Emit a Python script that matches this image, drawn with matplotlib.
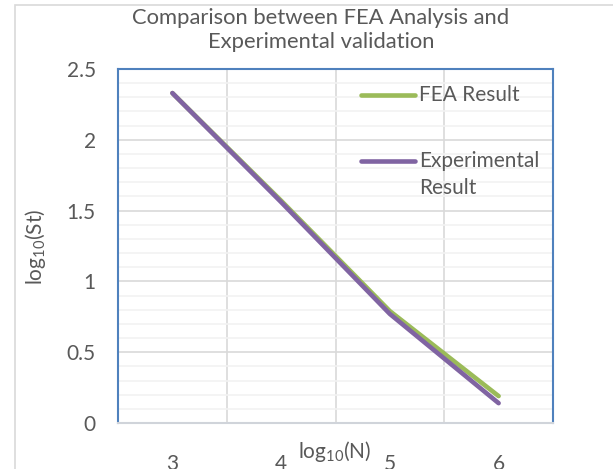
import numpy as np
import matplotlib
matplotlib.use("Agg")
import matplotlib.pyplot as plt
from matplotlib.patches import Rectangle
from matplotlib.lines import Line2D

plt.rcParams['font.family'] = ['Lato', 'DejaVu Sans']
plt.rcParams['mathtext.fontset'] = 'custom'
plt.rcParams['mathtext.rm'] = 'Lato'
plt.rcParams['mathtext.it'] = 'Lato:italic'

## DATA
log_n = [3, 4, 5, 6]
x_labels = ["3", "4", "5", "6"]
fea = [2.33, 1.57, 0.79, 0.19]
experimental = [2.33, 1.56, 0.77, 0.14]
y_ticks = [0, 0.5, 1, 1.5, 2, 2.5]

green = "#9BBB59"
purple = "#8064A2"
txt = "#595959"
fs = 15

W, H = 613, 469
fig = plt.figure(figsize=(W / 100, H / 100), dpi=100)
ax = fig.add_axes([118 / W, 1 - 423 / H, (553 - 118) / W, (423 - 69) / H])

# chart area border
fig.patches.append(Rectangle((15 / W, -0.1), 1.2, 1.1 - 5 / H, transform=fig.transFigure,
                             fill=False, edgecolor="#D9D9D9", lw=1.2))

ax.plot(log_n, fea, color=green, lw=3.3, solid_capstyle="round", solid_joinstyle="round", zorder=3)
ax.plot(log_n, experimental, color=purple, lw=3.3, solid_capstyle="round", solid_joinstyle="round", zorder=4)

ax.set_xlim(2.5, 6.5)
ax.set_ylim(0, 2.5)
ax.set_xticks(log_n)
ax.set_xticklabels(x_labels)
ax.set_xticks(np.arange(2.5, 6.6, 1), minor=True)
ax.set_yticks(y_ticks)
ax.set_yticklabels(["0", "0.5", "1", "1.5", "2", "2.5"])
ax.set_yticks(np.arange(0, 2.51, 0.1), minor=True)

ax.grid(True, which="minor", axis="y", color="#F2F2F2", lw=1.2, zorder=0)
ax.grid(True, which="major", axis="y", color="#D9D9D9", lw=1.2, zorder=1)
ax.grid(True, which="minor", axis="x", color="#D9D9D9", lw=1.2, zorder=1)
ax.set_axisbelow(True)

ax.tick_params(which="both", length=0)
ax.tick_params(axis="y", pad=16, labelsize=fs, labelcolor=txt)
ax.tick_params(axis="x", pad=22, labelsize=fs, labelcolor=txt)

for s in ["left", "top", "right"]:
    ax.spines[s].set_color("#4F81BD")
    ax.spines[s].set_linewidth(1.5)
ax.spines["bottom"].set_color("#D0D4DA")
ax.spines["bottom"].set_linewidth(1.5)

fig.text(321 / W, 1 - 8 / H, "Comparison between FEA Analysis and\nExperimental validation",
         ha="center", va="top", fontsize=15.8, color=txt, linespacing=1.25)
fig.text(35 / W, 1 - 247 / H, r"log$_\mathrm{10}$(St)", rotation=90, ha="center", va="center",
         fontsize=fs, color=txt)
fig.text(335 / W, 1 - 451 / H, r"log$_\mathrm{10}$(N)", ha="center", va="center",
         fontsize=fs, color=txt)

# legend drawn by hand so the handle sits on the first text line
ax.add_line(Line2D([0.559, 0.683], [0.927, 0.927], transform=ax.transAxes, color=green,
                   lw=3.3, solid_capstyle="round"))
ax.add_line(Line2D([0.559, 0.683], [0.740, 0.740], transform=ax.transAxes, color=purple,
                   lw=3.3, solid_capstyle="round"))
ax.text(0.692, 0.927, "FEA Result", transform=ax.transAxes, va="center", fontsize=fs, color=txt)
ax.text(0.692, 0.740, "Experimental", transform=ax.transAxes, va="center", fontsize=fs, color=txt)
ax.text(0.692, 0.664, "Result", transform=ax.transAxes, va="center", fontsize=fs, color=txt)

fig.savefig("out.png", dpi=100)
